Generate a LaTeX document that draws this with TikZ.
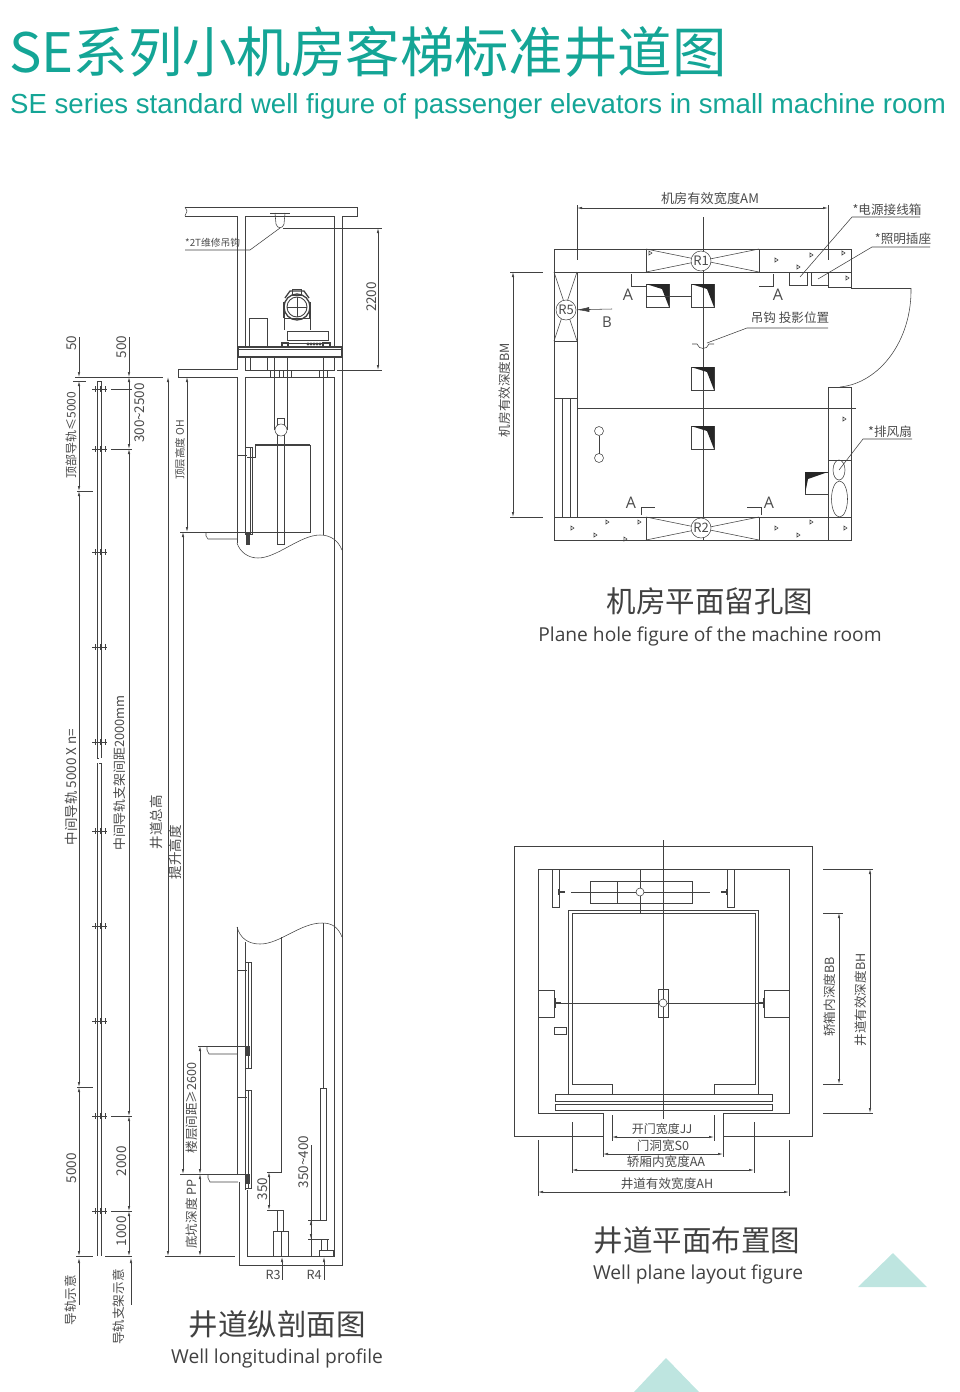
\documentclass[tikz,border=0pt]{standalone}
\usepackage{fontspec}
\setmainfont{Open Sans}
\newfontfamily\cjk{Noto Sans CJK SC}
\newfontfamily\arialfont{Liberation Sans}
\usetikzlibrary{arrows.meta}
\usetikzlibrary{positioning}
\definecolor{teal1}{RGB}{20,165,150}
\definecolor{teal2}{RGB}{190,229,224}
\definecolor{ink}{RGB}{65,65,65}
\definecolor{txt}{RGB}{75,75,75}
\tikzset{>={Latex[length=5pt,width=2.4pt]}}
\tikzset{
    wall/.style={draw=ink, line width=0.9pt},
    fine/.style={draw=ink, line width=0.55pt},
    heavy/.style={draw=ink, line width=1.3pt},
    dimline/.style={<->, draw=ink, line width=0.6pt},
    lab/.style={text=txt, inner sep=0pt, font=\cjk\fontsize{12.6}{13}\selectfont},
    biglab/.style={text=txt, inner sep=0pt, font=\cjk\fontsize{13.5}{14}\selectfont},
    rotlab/.style={lab, rotate=90},
    bigrot/.style={biglab, rotate=90},
    captionzh/.style={text=ink, inner sep=0pt, font=\cjk\fontsize{29.5}{30}\selectfont},
    captionen/.style={text=ink, inner sep=0pt, font=\fontsize{19.2}{20}\selectfont},
    rmark/.style={circle, draw=ink, fill=white, inner sep=0pt, minimum size=20pt, text=txt, line width=0.5pt, font=\cjk\fontsize{13}{13}\selectfont},
}
\begin{document}
\begin{tikzpicture}[x=1pt, y=-1pt]
    \useasboundingbox (0,0) rectangle (960,1392);

    \node [anchor=west, text=teal1, inner sep=0pt, font=\cjk\fontsize{54.4}{56}\selectfont] (title) at (9,52) {SE系列小机房客梯标准井道图};
    \node [anchor=west, text=teal1, inner sep=0pt, font=\arialfont\fontsize{27.6}{28}\selectfont] (subtitle) at (10,106) {SE series standard well figure of passenger elevators in small machine room};

    \fill [teal2] (858,1287)--(893,1253)--(927,1287)--cycle;
    \fill [teal2] (634,1392)--(666,1358)--(699,1392)--cycle;

    \draw [wall] (185,207)--(357,207)--(357,216)--(342,216)--(342,369);
    \draw [wall] (185,216)--(237,216)--(237,347);
    \draw [wall] (245,216)--(334,216)--(334,347);
    \draw [wall] (245,216)--(245,347);
    \draw [fine] (185,207)--(187,211)--(185,216);
    \draw [wall] (237,357)--(237,369)--(178,369)--(178,377)--(237,377)--(237,543);
    \draw [wall] (245,357)--(245,370)--(334,370)--(334,357);
    \draw [wall] (245,377)--(334,377);
    \draw [wall] (245,377)--(245,447);
    \draw [wall] (334,377)--(334,1256)--(247,1256)--(247,1190);
    \draw [wall] (342,369)--(342,1265)--(239,1265)--(239,1182);
    \draw [wall] (237,927)--(237,1174);

    \draw [fine] (270,213)--(290,213);
    \draw [fine] (275,213)--(276,224) .. controls (277,229) and (283,229) .. (284,224)--(285,213);
    \draw [fine] (283,228)--(382,228);
    \draw [fine] (280,228)--(250,250)--(185,250);
    \node [lab, anchor=west, font=\cjk\fontsize{9.8}{10}\selectfont] (hooklabel) at (185,243) {*2T维修吊钩};

    \draw [fine] (337,370)--(382,370);
    \draw [dimline] (378,228)--(378,370);
    \node [bigrot] (dimtop) at (372,297) {2200};

    \draw [heavy] (238,347) rectangle (342,357);
    \draw [fine] (238,349)--(342,349);
    \draw [fine] (249,318) rectangle (267,347);
    \draw [fine] (250,357)--(250,370);
    \draw [fine] (267,357)--(267,370);
    \draw [wall] (297,307) circle (10);
    \draw [heavy] (297,307) circle (13);
    \draw [fine] (287,307)--(307,307);
    \draw [fine] (297,297)--(297,317);
    \draw [fine] (292,289) rectangle (301,295);
    \draw [heavy] (285,298)--(290,291)--(304,291)--(309,298);
    \draw [heavy] (284,302)--(284,318);
    \draw [heavy] (310,302)--(310,318);
    \draw [fine] (284,318)--(310,318);
    \draw [fine] (284,318)--(284,330);
    \draw [fine] (310,318)--(310,330);
    \draw [fine] (287,331)--(328,331)--(328,340)--(287,340)--cycle;
    \draw [fine] (287,343)--(323,343);
    \draw [heavy] (282,343) rectangle (288,347);
    \draw [heavy] (323,343) rectangle (330,347);
    \foreach \x in {308,311,314,317,320}
        \fill [ink] (\x,344) circle (1.7);

    \foreach \x in {270,274,279,283,287,291,319,323,327}
        \draw [fine] (\x,370)--(\x,377);
    \draw [fine] (274,357)--(274,430);
    \draw [fine] (287,357)--(287,430);
    \draw [fine] (323,357)--(323,535);
    \draw [fine] (277,418) rectangle (284,544);
    \draw [fine, fill=white] (281,430) circle (6);

    \draw [heavy] (255,445)--(310,445);
    \draw [wall] (255,445)--(255,457)--(247,457);
    \draw [fine] (237,455)--(247,455);
    \draw [wall] (310,445)--(310,533);
    \draw [wall] (206,532)--(310,532);
    \draw [fine] (206,532)--(206,536)--(208,539)--(237,539);
    \draw [wall] (245,447) rectangle (252,534);
    \draw [fine] (247,534)--(247,543);
    \fill [ink] (246,532) rectangle (250,545);
    \draw [fine] (250,447)--(250,534);

    \draw [fine] (237,543) .. controls (240,552) and (248,558) .. (258,558) .. controls (277,558) and (300,535) .. (320,535) .. controls (330,535) and (338,540) .. (342,550);
    \draw [fine] (237,927) .. controls (240,938) and (248,944) .. (260,944) .. controls (280,944) and (300,923) .. (322,923) .. controls (332,923) and (338,927) .. (342,937);

    \draw [fine] (245,942)--(245,1190);
    \draw [wall] (245,962)--(251,962)--(251,1068)--(245,1068);
    \draw [fine] (248,962)--(248,1068);
    \draw [wall] (245,1090)--(251,1090)--(251,1188)--(245,1188);
    \draw [fine] (248,1090)--(248,1188);
    \fill [ink] (246,1046) rectangle (250,1056);
    \fill [ink] (246,1174) rectangle (250,1184);
    \draw [fine] (237,970)--(247,970);
    \draw [fine] (237,1097)--(247,1097);
    \draw [wall] (198,1046)--(247,1046);
    \draw [fine] (207,1046)--(207,1050)--(209,1054)--(237,1054);
    \draw [wall] (180,1174)--(247,1174);
    \draw [fine] (208,1174)--(208,1178)--(210,1182)--(238,1182);

    \draw [fine] (281,937)--(281,1172)--(267,1172);
    \draw [fine] (267,1210)--(283,1210);
    \draw [fine] (277,1210) rectangle (283,1231);
    \draw [fine] (273,1231) rectangle (288,1256);
    \draw [fine] (281,1231)--(281,1256);
    \draw [dimline] (269,1172)--(269,1210);
    \node [bigrot] (dimbuf) at (263,1189) {350};

    \draw [fine] (323,923)--(323,1088);
    \draw [fine] (320,1088) rectangle (326,1220);
    \draw [fine] (308,1220)--(327,1220);
    \draw [fine] (308,1239)--(329,1239);
    \draw [fine] (321,1239) rectangle (327,1250);
    \draw [fine] (319,1250) rectangle (333,1256);
    \draw [fine] (311,1145)--(311,1256);
    \draw [dimline] (311,1220)--(311,1239);
    \node [bigrot] (dimcw) at (304,1162) {350\textasciitilde400};

    \draw [fine, <-] (282,1257)--(282,1280);
    \draw [fine, <-] (324,1257)--(324,1280);
    \node [lab] (Rthree) at (273,1275) {R3};
    \node [lab] (Rfour) at (314,1275) {R4};

    \draw [fine] (75,377)--(163,377);
    \draw [fine] (165,1256)--(235,1256);
    \draw [fine] (76,1256)--(93,1256);
    \draw [fine] (105,1256)--(132,1256);
    \draw [fine] (77,491)--(93,491);
    \draw [fine] (77,1087)--(93,1087);
    \draw [fine] (73,381)--(86,381);

    \draw [fine] (97,381)--(97,758);
    \draw [fine] (101,381)--(101,758);
    \draw [fine] (97,763)--(97,1256);
    \draw [fine] (101,763)--(101,1256);
    \draw [fine] (97,381)--(101,381);
    \draw [fine] (97,758)--(99,758);
    \draw [fine] (99,763)--(101,763);
    \foreach \y in {389,449,552,647,742,831,926,1021,1116,1211} {
        \draw [fine] (92,\y)--(107,\y);
        \foreach \x in {95,100,105}
            \draw [fine] (\x,\y-3)--(\x,\y+3);
    }
    \foreach \y in {389,449,1116,1211}
        \draw [fine] (111,\y)--(132,\y);

    \draw [fine, ->] (79,337)--(79,377);
    \draw [dimline] (79,381)--(79,491);
    \draw [dimline] (79,491)--(79,1087);
    \draw [dimline] (79,1087)--(79,1256);
    \draw [fine, <-] (79,1258)--(79,1305);
    \draw [fine, ->] (129,337)--(129,377);
    \draw [dimline] (129,377)--(129,449);
    \draw [dimline] (129,449)--(129,1116);
    \draw [dimline] (129,1116)--(129,1211);
    \draw [dimline] (129,1211)--(129,1256);
    \draw [fine, <-] (131,1258)--(131,1305);

    \node [bigrot] (dimfifty) at (72,343) {50};
    \node [bigrot] (dimfive) at (122,347) {500};
    \node [bigrot] (dimgap) at (140,413) {300\textasciitilde2500};
    \node [rotlab, font=\cjk\fontsize{12}{12}\selectfont] (railtop) at (71,435) {顶部导轨≤5000};
    \node [bigrot] (railmid) at (71,787) {中间导轨 5000 X n=};
    \node [rotlab, font=\cjk\fontsize{12.9}{13}\selectfont] (railstep) at (120,773) {中间导轨支架间距2000mm};
    \node [bigrot] (railend) at (72,1168) {5000};
    \node [bigrot] (stepa) at (122,1161) {2000};
    \node [bigrot] (stepb) at (122,1231) {1000};
    \node [rotlab] (railnote) at (71,1300) {导轨示意};
    \node [rotlab] (bracketnote) at (119,1307) {导轨支架示意};

    \draw [dimline] (168,377)--(168,1256);
    \draw [dimline] (183,532)--(183,1174);
    \draw [dimline] (187,377)--(187,532);
    \draw [fine] (180,532)--(206,532);
    \draw [dimline] (200,1046)--(200,1174);
    \draw [dimline] (200,1174)--(200,1256);
    \node [bigrot] (dimtotal) at (156,822) {井道总高};
    \node [bigrot] (dimrise) at (175,852) {提升高度};
    \node [rotlab, font=\cjk\fontsize{10.5}{11}\selectfont] (dimoh) at (180,450) {顶层高度 OH};
    \node [rotlab] (dimfloor) at (192,1108) {楼层间距≥2600};
    \node [rotlab] (dimpit) at (192,1214) {底坑深度 PP};

    \node [captionzh] (profzh) at (277,1324) {井道纵剖面图};
    \node [captionen] (profen) at (277,1358) {Well longitudinal profile};

    \draw [wall] (554,249) rectangle (851,272);
    \draw [wall] (554,272)--(554,517);
    \draw [wall] (577,272)--(577,517);
    \draw [wall] (554,341)--(577,341);
    \draw [wall] (554,398)--(577,398);
    \foreach \x in {562,570}
        \draw [fine] (\x,398)--(\x,517);
    \draw [wall] (554,517) rectangle (851,540);
    \draw [wall] (828,272)--(828,287)--(851,287)--(851,272);
    \draw [wall] (828,387) rectangle (851,517);
    \draw [fine] (828,460)--(851,460);
    \draw [fine] (828,517)--(828,540);
    \draw [fine] (851,288)--(911,288);
    \draw [fine] (911,288) .. controls (912,340) and (880,383) .. (840,387);
    \draw [fine] (577,408)--(856,408);
    \draw [fine] (703,217)--(703,540);

    \foreach \y in {249,517} {
        \draw [fine] (646,\y) rectangle (759,\y+23);
        \draw [fine] (646,\y)--(759,\y+23);
        \draw [fine] (646,\y+23)--(759,\y);
    }
    \draw [fine] (554,272)--(577,341);
    \draw [fine] (577,272)--(554,341);
    \node [rmark] (Rone) at (701,261) {R1};
    \node [rmark] (Rtwo) at (701,528) {R2};
    \node [rmark] (Rfive) at (566,310) {R5};

    \foreach \x/\y in {646/284,691/284,691/367,691/426} {
        \draw [fine] (\x,\y) rectangle ++(23,23);
        \fill [black!85] (\x,\y)--++(23,0)--++(0,23)--++(-7,-18)--cycle;
    }
    \draw [fine] (646,296)--(691,296);
    \draw [fine] (805,472) rectangle (828,494);
    \fill [black!85] (805,472)--(828,472)--(808,479)--(805,494)--cycle;

    \draw [fine] (789,272) rectangle (807,285);
    \draw [fine] (811,272) rectangle (828,285);
    \draw [fine] (839,470) ellipse (6 and 10);
    \draw [fine] (839.5,499) ellipse (8 and 18);
    \draw [fine] (599,431) circle (4.5);
    \draw [fine] (599,458) circle (4.5);
    \draw [fine] (599,435.5)--(599,453.5);
    \draw [fine] (692,344)--(697,344) .. controls (699,350) and (707,350) .. (709,344)--(714,344);

    \foreach \x/\y in {650/253,776/260,811/255,798/267,843/253,847/278,844/419,845/528,572/528,607/522,639/522,776/528,811/522,798/535,595/535,625/539}
        \draw [fine] (\x-1,\y-2)--(\x+2,\y)--(\x-1,\y+2)--cycle;

    \draw [fine] (631,274)--(631,286)--(646,286);
    \draw [fine] (773,274)--(773,286)--(759,286);
    \draw [fine] (641,515)--(641,507)--(655,507);
    \draw [fine] (761,515)--(761,507)--(747,507);
    \node [biglab, font=\fontsize{16}{16}\selectfont] (Aa) at (628,295) {A};
    \node [biglab, font=\fontsize{16}{16}\selectfont] (Ab) at (778,295) {A};
    \node [biglab, font=\fontsize{16}{16}\selectfont] (Ac) at (631,503) {A};
    \node [biglab, font=\fontsize{16}{16}\selectfont] (Ad) at (769,503) {A};
    \node [biglab, font=\fontsize{15}{15}\selectfont] (Bmark) at (607,322) {B};
    \coordinate (Bstart) at (612,309);
    \draw [fine, -{Latex[length=13pt,width=5pt]}] (Bstart)--(Rfive);

    \draw [fine] (577,205)--(577,260);
    \draw [fine] (828,205)--(828,260);
    \draw [dimline] (577,208)--(828,208);
    \node [biglab, font=\cjk\fontsize{13.2}{14}\selectfont] (dimam) at (710,199) {机房有效宽度AM};
    \draw [fine] (510,272)--(543,272);
    \draw [fine] (510,517)--(543,517);
    \draw [dimline] (513,272)--(513,517);
    \node [rotlab] (dimbm) at (505,390) {机房有效深度BM};

    \draw [fine] (800,277)--(852,217)--(920,217);
    \node [lab] (labpower) at (887,210) {*电源接线箱};
    \draw [fine] (818,279)--(872,247)--(930,247);
    \node [lab] (lablight) at (903,239) {*照明插座};
    \draw [fine] (707,343)--(747,328)--(828,328);
    \node [lab] (labhook) at (790,318) {吊钩 投影位置};
    \draw [fine] (839,470)--(863,439)--(912,439);
    \node [lab] (labfan) at (890,432) {*排风扇};

    \node [captionzh] (roomzh) at (710,601) {机房平面留孔图};
    \node [captionen] (roomen) at (710,636) {Plane hole figure of the machine room};

    \draw [wall] (603,1136)--(514,1136)--(514,846)--(812,846)--(812,1136)--(723,1136);
    \draw [wall] (603,1157)--(603,1113)--(538,1113)--(538,869)--(789,869)--(789,1113)--(723,1113)--(723,1157);
    \draw [fine] (663,840)--(663,1119);

    \draw [wall] (568,1094)--(568,910)--(758,910)--(758,1094);
    \draw [wall] (612,1094)--(612,1084)--(572,1084)--(572,913)--(755,913)--(755,1084)--(714,1084)--(714,1094);
    \draw [fine] (555,1094) rectangle (772,1101);
    \draw [fine] (555,1104) rectangle (772,1110);

    \draw [fine] (552,869) rectangle (559,907);
    \draw [fine] (727,869) rectangle (734,907);
    \draw [heavy] (559,892)--(565,892);
    \draw [heavy] (721,892)--(727,892);
    \draw [heavy] (559,889)--(559,895);
    \draw [heavy] (727,889)--(727,895);
    \draw [fine] (590,881) rectangle (692,903);
    \draw [wall] (617,881) rectangle (663,903);
    \draw [fine] (571,892)--(710,892);
    \draw [fine] (640,869)--(640,913);
    \draw [fine, fill=white] (640,892) circle (4);

    \draw [fine] (538,990)--(554,990)--(554,1017)--(538,1017);
    \draw [fine] (789,990)--(764,990)--(764,1017)--(789,1017);
    \draw [fine] (555,1003)--(763,1003);
    \draw [heavy] (555,998)--(555,1008);
    \draw [heavy] (555,1003)--(561,1003);
    \draw [heavy] (764,998)--(764,1008);
    \draw [heavy] (758,1003)--(764,1003);
    \draw [fine] (658,989) rectangle (668,1017);
    \draw [fine, fill=white] (663,1003) circle (4);
    \draw [fine] (554,1027) rectangle (566,1034);

    \draw [fine] (612,1115)--(612,1141);
    \draw [fine] (714,1115)--(714,1141);
    \draw [dimline] (612,1137)--(714,1137);
    \draw [dimline] (603,1154)--(723,1154);
    \draw [fine] (572,1122)--(572,1173);
    \draw [fine] (754,1122)--(754,1173);
    \draw [dimline] (572,1170)--(754,1170);
    \draw [fine] (538,1140)--(538,1196);
    \draw [fine] (789,1140)--(789,1196);
    \draw [dimline] (538,1192)--(789,1192);
    \node [lab, font=\cjk\fontsize{12}{12}\selectfont] (dimjj) at (662,1129) {开门宽度JJ};
    \node [lab] (dimso) at (663,1146) {门洞宽S0};
    \node [lab] (dimaa) at (666,1162) {轿厢内宽度AA};
    \node [lab] (dimah) at (667,1184) {井道有效宽度AH};

    \draw [fine] (823,913)--(843,913);
    \draw [fine] (823,1084)--(843,1084);
    \draw [dimline] (839,913)--(839,1084);
    \draw [fine] (823,869)--(873,869);
    \draw [fine] (823,1113)--(873,1113);
    \draw [dimline] (870,869)--(870,1113);
    \node [rotlab] (dimbb) at (830,997) {轿箱内深度BB};
    \node [rotlab] (dimbh) at (861,1000) {井道有效深度BH};

    \node [captionzh] (planzh) at (697,1240) {井道平面布置图};
    \node [captionen] (planen) at (698,1274) {Well plane layout figure};
\end{tikzpicture}
\end{document}
